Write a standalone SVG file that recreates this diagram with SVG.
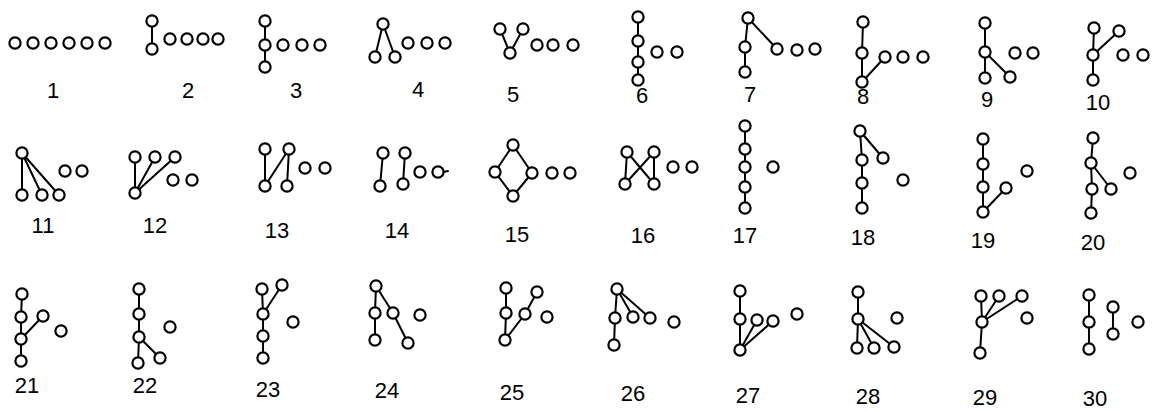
<svg xmlns="http://www.w3.org/2000/svg" xmlns:xlink="http://www.w3.org/1999/xlink" width="1161" height="412" viewBox="0 0 1161 412">
<style>
.n{fill:#fff;stroke:#000;stroke-width:2.2}
#connectors line{stroke:#000;stroke-width:2;stroke-linecap:round}
.lbl{font-family:"Liberation Sans",Arial,sans-serif;font-size:22px;fill:#000;text-anchor:middle}
</style>
<defs><circle id="c" r="5.6" class="n"/></defs>
<rect width="1161" height="412" fill="#fff"/>
<g id="connectors">
<line x1="152" y1="21" x2="152" y2="49"/>
<line x1="265" y1="21" x2="265" y2="67"/>
<line x1="383" y1="24" x2="375" y2="57"/><line x1="383" y1="24" x2="395" y2="57"/>
<line x1="510" y1="53" x2="500" y2="29"/><line x1="510" y1="53" x2="523" y2="29"/>
<line x1="638" y1="17" x2="638" y2="80"/>
<line x1="748" y1="18" x2="745" y2="47"/><line x1="745" y1="47" x2="745" y2="72"/><line x1="748" y1="18" x2="777" y2="49"/>
<line x1="863" y1="22" x2="862" y2="53"/><line x1="862" y1="53" x2="862" y2="82"/><line x1="862" y1="82" x2="885" y2="57"/>
<line x1="985" y1="23" x2="985" y2="78"/><line x1="985" y1="52" x2="1010" y2="77"/>
<line x1="1094" y1="28" x2="1093" y2="55"/><line x1="1119" y1="31" x2="1093" y2="55"/><line x1="1093" y1="55" x2="1093" y2="80"/>
<line x1="22" y1="153" x2="22" y2="195"/><line x1="22" y1="153" x2="42" y2="195"/><line x1="22" y1="153" x2="59" y2="195"/>
<line x1="135" y1="193" x2="135" y2="157"/><line x1="135" y1="193" x2="155" y2="157"/><line x1="135" y1="193" x2="175" y2="157"/>
<line x1="265" y1="149" x2="265" y2="186"/><line x1="289" y1="149" x2="265" y2="186"/><line x1="289" y1="149" x2="287" y2="186"/>
<line x1="383" y1="153" x2="380" y2="186"/><line x1="405" y1="153" x2="403" y2="184"/><line x1="443" y1="172" x2="448" y2="171"/>
<line x1="513" y1="145" x2="495" y2="172"/><line x1="513" y1="145" x2="532" y2="173"/><line x1="495" y1="172" x2="513" y2="196"/><line x1="532" y1="173" x2="513" y2="196"/>
<line x1="627" y1="152" x2="625" y2="184"/><line x1="654" y1="152" x2="654" y2="184"/><line x1="627" y1="152" x2="654" y2="184"/><line x1="654" y1="152" x2="625" y2="184"/>
<line x1="745" y1="126" x2="745" y2="208"/>
<line x1="860" y1="131" x2="883" y2="158"/><line x1="860" y1="131" x2="862" y2="160"/><line x1="862" y1="160" x2="862" y2="208"/>
<line x1="983" y1="139" x2="983" y2="212"/><line x1="983" y1="212" x2="1006" y2="188"/>
<line x1="1093" y1="138" x2="1091" y2="163"/><line x1="1091" y1="163" x2="1092" y2="189"/><line x1="1092" y1="189" x2="1091" y2="213"/><line x1="1091" y1="163" x2="1111" y2="189"/>
<line x1="22" y1="294" x2="21" y2="317"/><line x1="21" y1="317" x2="21" y2="361"/><line x1="21" y1="339" x2="43" y2="316"/>
<line x1="139" y1="289" x2="139" y2="337"/><line x1="139" y1="337" x2="138" y2="363"/><line x1="139" y1="337" x2="160" y2="358"/>
<line x1="262" y1="289" x2="263" y2="314"/><line x1="282" y1="285" x2="263" y2="314"/><line x1="263" y1="314" x2="263" y2="358"/>
<line x1="376" y1="286" x2="375" y2="313"/><line x1="375" y1="313" x2="375" y2="340"/><line x1="376" y1="286" x2="393" y2="313"/><line x1="393" y1="313" x2="408" y2="343"/>
<line x1="506" y1="288" x2="506" y2="313"/><line x1="506" y1="313" x2="505" y2="340"/><line x1="505" y1="340" x2="525" y2="314"/><line x1="525" y1="314" x2="537" y2="292"/>
<line x1="617" y1="289" x2="615" y2="318"/><line x1="617" y1="289" x2="633" y2="317"/><line x1="617" y1="289" x2="650" y2="318"/><line x1="615" y1="318" x2="614" y2="345"/>
<line x1="740" y1="291" x2="740" y2="319"/><line x1="740" y1="350" x2="740" y2="319"/><line x1="740" y1="350" x2="757" y2="320"/><line x1="740" y1="350" x2="773" y2="321"/>
<line x1="858" y1="292" x2="858" y2="319"/><line x1="858" y1="319" x2="857" y2="348"/><line x1="858" y1="319" x2="874" y2="348"/><line x1="858" y1="319" x2="894" y2="347"/>
<line x1="982" y1="322" x2="981" y2="296"/><line x1="982" y1="322" x2="999" y2="296"/><line x1="982" y1="322" x2="1022" y2="296"/><line x1="982" y1="322" x2="980" y2="353"/>
<line x1="1089" y1="295" x2="1089" y2="349"/><line x1="1113" y1="307" x2="1113" y2="334"/>
</g>
<g id="poset-1"><use href="#c" x="15" y="43"/><use href="#c" x="33" y="43"/><use href="#c" x="51" y="43"/><use href="#c" x="69" y="43"/><use href="#c" x="87" y="43"/><use href="#c" x="105" y="43"/><text class="lbl" x="53" y="98">1</text></g>
<g id="poset-2"><use href="#c" x="152" y="21"/><use href="#c" x="152" y="49"/><use href="#c" x="170" y="39"/><use href="#c" x="187" y="39"/><use href="#c" x="203" y="39"/><use href="#c" x="218" y="39"/><text class="lbl" x="188" y="98">2</text></g>
<g id="poset-3"><use href="#c" x="265" y="21"/><use href="#c" x="265" y="45"/><use href="#c" x="265" y="67"/><use href="#c" x="283" y="45"/><use href="#c" x="302" y="45"/><use href="#c" x="320" y="45"/><text class="lbl" x="296" y="98">3</text></g>
<g id="poset-4"><use href="#c" x="383" y="24"/><use href="#c" x="375" y="57"/><use href="#c" x="395" y="57"/><use href="#c" x="408" y="43"/><use href="#c" x="427" y="43"/><use href="#c" x="445" y="43"/><text class="lbl" x="418" y="97">4</text></g>
<g id="poset-5"><use href="#c" x="500" y="29"/><use href="#c" x="523" y="29"/><use href="#c" x="510" y="53"/><use href="#c" x="537" y="45"/><use href="#c" x="553" y="45"/><use href="#c" x="573" y="45"/><text class="lbl" x="513" y="102">5</text></g>
<g id="poset-6"><use href="#c" x="638" y="17"/><use href="#c" x="638" y="41"/><use href="#c" x="638" y="62"/><use href="#c" x="638" y="80"/><use href="#c" x="657" y="52"/><use href="#c" x="677" y="52"/><text class="lbl" x="642" y="103">6</text></g>
<g id="poset-7"><use href="#c" x="748" y="18"/><use href="#c" x="745" y="47"/><use href="#c" x="745" y="72"/><use href="#c" x="777" y="49"/><use href="#c" x="797" y="50"/><use href="#c" x="815" y="49"/><text class="lbl" x="750" y="102">7</text></g>
<g id="poset-8"><use href="#c" x="863" y="22"/><use href="#c" x="862" y="53"/><use href="#c" x="862" y="82"/><use href="#c" x="885" y="57"/><use href="#c" x="903" y="57"/><use href="#c" x="923" y="57"/><text class="lbl" x="863" y="104">8</text></g>
<g id="poset-9"><use href="#c" x="985" y="23"/><use href="#c" x="985" y="52"/><use href="#c" x="985" y="78"/><use href="#c" x="1010" y="77"/><use href="#c" x="1015" y="53"/><use href="#c" x="1033" y="53"/><text class="lbl" x="987" y="107">9</text></g>
<g id="poset-10"><use href="#c" x="1094" y="28"/><use href="#c" x="1119" y="31"/><use href="#c" x="1093" y="55"/><use href="#c" x="1093" y="80"/><use href="#c" x="1123" y="55"/><use href="#c" x="1143" y="55"/><text class="lbl" x="1098" y="110">10</text></g>
<g id="poset-11"><use href="#c" x="22" y="153"/><use href="#c" x="22" y="195"/><use href="#c" x="42" y="195"/><use href="#c" x="59" y="195"/><use href="#c" x="65" y="171"/><use href="#c" x="82" y="171"/><text class="lbl" x="43" y="233">11</text></g>
<g id="poset-12"><use href="#c" x="135" y="157"/><use href="#c" x="155" y="157"/><use href="#c" x="175" y="157"/><use href="#c" x="135" y="193"/><use href="#c" x="173" y="180"/><use href="#c" x="192" y="180"/><text class="lbl" x="155" y="233">12</text></g>
<g id="poset-13"><use href="#c" x="265" y="149"/><use href="#c" x="289" y="149"/><use href="#c" x="265" y="186"/><use href="#c" x="287" y="186"/><use href="#c" x="305" y="168"/><use href="#c" x="325" y="168"/><text class="lbl" x="277" y="238">13</text></g>
<g id="poset-14"><use href="#c" x="383" y="153"/><use href="#c" x="380" y="186"/><use href="#c" x="405" y="153"/><use href="#c" x="403" y="184"/><use href="#c" x="420" y="172"/><use href="#c" x="438" y="172"/><text class="lbl" x="397" y="238">14</text></g>
<g id="poset-15"><use href="#c" x="513" y="145"/><use href="#c" x="495" y="172"/><use href="#c" x="532" y="173"/><use href="#c" x="513" y="196"/><use href="#c" x="552" y="173"/><use href="#c" x="570" y="173"/><text class="lbl" x="517" y="242">15</text></g>
<g id="poset-16"><use href="#c" x="627" y="152"/><use href="#c" x="654" y="152"/><use href="#c" x="625" y="184"/><use href="#c" x="654" y="184"/><use href="#c" x="673" y="167"/><use href="#c" x="692" y="167"/><text class="lbl" x="643" y="243">16</text></g>
<g id="poset-17"><use href="#c" x="745" y="126"/><use href="#c" x="745" y="149"/><use href="#c" x="745" y="167"/><use href="#c" x="745" y="187"/><use href="#c" x="745" y="208"/><use href="#c" x="773" y="167"/><text class="lbl" x="745" y="243">17</text></g>
<g id="poset-18"><use href="#c" x="860" y="131"/><use href="#c" x="883" y="158"/><use href="#c" x="862" y="160"/><use href="#c" x="862" y="183"/><use href="#c" x="862" y="208"/><use href="#c" x="903" y="180"/><text class="lbl" x="863" y="245">18</text></g>
<g id="poset-19"><use href="#c" x="983" y="139"/><use href="#c" x="983" y="164"/><use href="#c" x="983" y="187"/><use href="#c" x="983" y="212"/><use href="#c" x="1006" y="188"/><use href="#c" x="1027" y="171"/><text class="lbl" x="983" y="248">19</text></g>
<g id="poset-20"><use href="#c" x="1093" y="138"/><use href="#c" x="1091" y="163"/><use href="#c" x="1092" y="189"/><use href="#c" x="1091" y="213"/><use href="#c" x="1111" y="189"/><use href="#c" x="1130" y="173"/><text class="lbl" x="1093" y="250">20</text></g>
<g id="poset-21"><use href="#c" x="22" y="294"/><use href="#c" x="21" y="317"/><use href="#c" x="21" y="339"/><use href="#c" x="21" y="361"/><use href="#c" x="43" y="316"/><use href="#c" x="61" y="331"/><text class="lbl" x="27" y="393">21</text></g>
<g id="poset-22"><use href="#c" x="139" y="289"/><use href="#c" x="139" y="314"/><use href="#c" x="139" y="337"/><use href="#c" x="138" y="363"/><use href="#c" x="160" y="358"/><use href="#c" x="170" y="327"/><text class="lbl" x="145" y="393">22</text></g>
<g id="poset-23"><use href="#c" x="262" y="289"/><use href="#c" x="282" y="285"/><use href="#c" x="263" y="314"/><use href="#c" x="263" y="336"/><use href="#c" x="263" y="358"/><use href="#c" x="293" y="322"/><text class="lbl" x="268" y="397">23</text></g>
<g id="poset-24"><use href="#c" x="376" y="286"/><use href="#c" x="375" y="313"/><use href="#c" x="393" y="313"/><use href="#c" x="375" y="340"/><use href="#c" x="408" y="343"/><use href="#c" x="420" y="315"/><text class="lbl" x="387" y="398">24</text></g>
<g id="poset-25"><use href="#c" x="506" y="288"/><use href="#c" x="506" y="313"/><use href="#c" x="505" y="340"/><use href="#c" x="525" y="314"/><use href="#c" x="537" y="292"/><use href="#c" x="547" y="317"/><text class="lbl" x="512" y="400">25</text></g>
<g id="poset-26"><use href="#c" x="617" y="289"/><use href="#c" x="615" y="318"/><use href="#c" x="633" y="317"/><use href="#c" x="650" y="318"/><use href="#c" x="614" y="345"/><use href="#c" x="674" y="322"/><text class="lbl" x="633" y="401">26</text></g>
<g id="poset-27"><use href="#c" x="740" y="291"/><use href="#c" x="740" y="319"/><use href="#c" x="757" y="320"/><use href="#c" x="773" y="321"/><use href="#c" x="740" y="350"/><use href="#c" x="797" y="314"/><text class="lbl" x="748" y="403">27</text></g>
<g id="poset-28"><use href="#c" x="858" y="292"/><use href="#c" x="858" y="319"/><use href="#c" x="857" y="348"/><use href="#c" x="874" y="348"/><use href="#c" x="894" y="347"/><use href="#c" x="897" y="318"/><text class="lbl" x="868" y="404">28</text></g>
<g id="poset-29"><use href="#c" x="981" y="296"/><use href="#c" x="999" y="296"/><use href="#c" x="1022" y="296"/><use href="#c" x="982" y="322"/><use href="#c" x="980" y="353"/><use href="#c" x="1027" y="318"/><text class="lbl" x="985" y="405">29</text></g>
<g id="poset-30"><use href="#c" x="1089" y="295"/><use href="#c" x="1089" y="322"/><use href="#c" x="1089" y="349"/><use href="#c" x="1113" y="307"/><use href="#c" x="1113" y="334"/><use href="#c" x="1138" y="322"/><text class="lbl" x="1095" y="406">30</text></g>
</svg>
